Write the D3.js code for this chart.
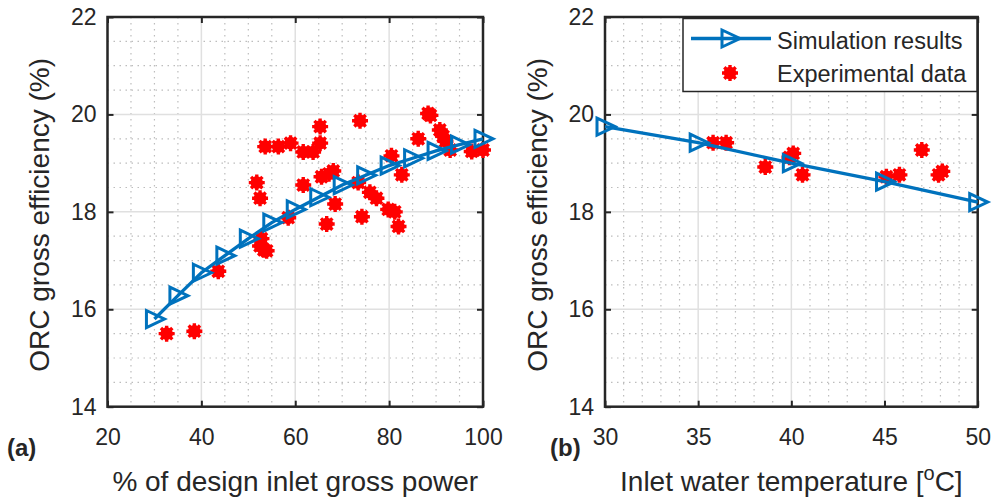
<!DOCTYPE html>
<html>
<head>
<meta charset="utf-8">
<script src="https://cdn.jsdelivr.net/npm/d3@7"></script>
<style>
  body { margin: 0; background: #fff; }
  text { font-family: "Liberation Sans", Arial, sans-serif; fill: #262626; }
</style>
</head>
<body>
<div id="chart"></div>
<script>
// panel (a): load
let simLoad = [30, 35, 40, 45, 50, 55, 60, 65, 70, 75, 80, 85, 90, 95, 100];
let simLoadEff = [15.8, 16.28, 16.75, 17.1, 17.45, 17.78, 18.05, 18.3, 18.55, 18.75, 18.95, 19.1, 19.25, 19.38, 19.5];
let expLoad = [32.6, 38.5, 43.6, 52.5, 53.9, 52.8, 53.3, 58.5, 51.8, 52.5, 53.6, 56.4, 59, 61.7, 63.8, 65.3, 65.3,
               61.7, 65.6, 68.1, 67.2, 68.5, 66.7, 73.8, 73.4, 75.9, 77.3, 74.2, 79.8, 81.2, 82, 80.5, 82.7, 86.2,
               88.3, 88.8, 90.8, 91.5, 92, 93, 97.6, 100];
let expLoadEff = [15.5, 15.55, 16.78, 17.3, 17.2, 17.45, 17.22, 17.88, 18.6, 18.28, 19.34, 19.34, 19.41, 19.23, 19.23, 19.41, 19.75,
                  18.55, 18.72, 18.84, 18.78, 18.16, 17.75, 19.87, 18.6, 18.4, 18.28, 17.9, 18.05, 18.0, 17.7, 19.15, 18.76, 19.5,
                  20.02, 19.98, 19.68, 19.55, 19.45, 19.27, 19.24, 19.27];

// panel (b): inlet water temperature
let simTemp = [30, 35, 40, 45, 50];
let simTempEff = [19.75, 19.42, 19.0, 18.62, 18.2];
let expTemp = [35.8, 36.5, 38.6, 39.9, 40.1, 40.6, 45.1, 45.8, 47, 47.9, 48.1];
let expTempEff = [19.42, 19.42, 18.92, 19.12, 19.2, 18.76, 18.72, 18.76, 19.27, 18.76, 18.83];

let yTicks = [14, 16, 18, 20, 22];
let loadTicks = [20, 40, 60, 80, 100];
let tempTicks = [30, 35, 40, 45, 50];

const blue = '#0072BD', red = '#FF0000';
const triPath = 'M-8,-8.5L10,0L-8,8.5Z';
const starPath = 'M-8,0H8M0,-8V8M-5.7,-5.7L5.7,5.7M-5.7,5.7L5.7,-5.7';

let svg = d3.select('#chart').append('svg')
  .attr('width', 997).attr('height', 502);

function drawPanel(cfg) {
  let x = d3.scaleLinear().domain(cfg.xDomain).range([cfg.left, cfg.right]);
  let y = d3.scaleLinear().domain([14, 22]).range([cfg.bottom, cfg.top]);
  let g = svg.append('g');

  // minor dotted grid
  g.selectAll('.mx').data(d3.range(cfg.xDomain[0], cfg.xDomain[1] + 1e-9, cfg.xMinor).filter(v => !cfg.xTicks.includes(v)))
    .join('line')
    .attr('x1', d => x(d)).attr('x2', d => x(d))
    .attr('y1', cfg.top).attr('y2', cfg.bottom)
    .attr('stroke', '#bdbdbd').attr('stroke-width', 1.2).attr('stroke-dasharray', '1.5,4.5');
  g.selectAll('.my').data(d3.range(14, 22, 0.5).filter(v => !yTicks.includes(v)))
    .join('line')
    .attr('x1', cfg.left).attr('x2', cfg.right)
    .attr('y1', d => y(d)).attr('y2', d => y(d))
    .attr('stroke', '#bdbdbd').attr('stroke-width', 1.2).attr('stroke-dasharray', '1.5,4.5');

  // major grid
  g.selectAll('.gx').data(cfg.xTicks).join('line')
    .attr('x1', d => x(d)).attr('x2', d => x(d))
    .attr('y1', cfg.top).attr('y2', cfg.bottom)
    .attr('stroke', '#e0e0e0').attr('stroke-width', 1.5);
  g.selectAll('.gy').data(yTicks).join('line')
    .attr('x1', cfg.left).attr('x2', cfg.right)
    .attr('y1', d => y(d)).attr('y2', d => y(d))
    .attr('stroke', '#e0e0e0').attr('stroke-width', 1.5);

  // axes, ticks inward on all four sides
  let bottomAx = g.append('g').attr('transform', `translate(0,${cfg.bottom})`)
    .call(d3.axisBottom(x).tickValues(cfg.xTicks).tickSize(-6).tickFormat(d3.format('d')));
  bottomAx.selectAll('text').attr('y', 22).style('font-size', '23px').attr('fill', '#262626');
  let leftAx = g.append('g').attr('transform', `translate(${cfg.left},0)`)
    .call(d3.axisLeft(y).tickValues(yTicks).tickSize(-6).tickFormat(d3.format('d')));
  leftAx.selectAll('text').attr('x', -11).style('font-size', '23px').attr('fill', '#262626');
  let topAx = g.append('g').attr('transform', `translate(0,${cfg.top})`)
    .call(d3.axisTop(x).tickValues(cfg.xTicks).tickSize(-6));
  let rightAx = g.append('g').attr('transform', `translate(${cfg.right},0)`)
    .call(d3.axisRight(y).tickValues(yTicks).tickSize(-6));
  topAx.selectAll('text').remove();
  rightAx.selectAll('text').remove();
  [bottomAx, leftAx, topAx, rightAx].forEach(a => {
    a.select('.domain').remove();
    a.selectAll('line').attr('stroke', '#262626').attr('stroke-width', 2);
  });

  g.append('rect')
    .attr('x', cfg.left).attr('y', cfg.top)
    .attr('width', cfg.right - cfg.left).attr('height', cfg.bottom - cfg.top)
    .attr('fill', 'none').attr('stroke', '#262626').attr('stroke-width', 2.5);

  // experimental markers
  let pts = cfg.expX.map((v, i) => [v, cfg.expY[i]]);
  let mk = g.selectAll('.exp').data(pts).join('g')
    .attr('transform', d => `translate(${x(d[0])},${y(d[1])})`);
  mk.append('circle').attr('r', 6.3).attr('fill', red);
  mk.append('path').attr('d', starPath)
    .attr('stroke', red).attr('stroke-width', 3.4);

  // simulation line + triangles
  let sim = cfg.simX.map((v, i) => [v, cfg.simY[i]]);
  g.append('path').datum(sim)
    .attr('d', d3.line().x(d => x(d[0])).y(d => y(d[1])))
    .attr('fill', 'none').attr('stroke', blue).attr('stroke-width', 3.3);
  g.selectAll('.tri').data(sim).join('path')
    .attr('transform', d => `translate(${x(d[0])},${y(d[1])})`)
    .attr('d', triPath)
    .attr('fill', 'none').attr('stroke', blue).attr('stroke-width', 3);

  // axis labels
  svg.append('text')
    .attr('transform', `translate(${cfg.left - 68},${(cfg.top + cfg.bottom) / 2 + 3}) rotate(-90)`)
    .attr('text-anchor', 'middle').attr('dy', '0.35em')
    .style('font-size', '28px').text('ORC gross efficiency (%)');
  let xl = svg.append('text')
    .attr('x', (cfg.left + cfg.right) / 2).attr('y', 491)
    .attr('text-anchor', 'middle').style('font-size', '28px');
  cfg.xLabel(xl);

  svg.append('text').attr('x', cfg.tagX).attr('y', 456)
    .style('font-size', '24px').style('font-weight', 'bold').attr('fill', '#000')
    .text(cfg.tag);
}

drawPanel({
  left: 107.5, right: 483, top: 17, bottom: 406.7,
  xDomain: [20, 100], xTicks: loadTicks, xMinor: 5,
  simX: simLoad, simY: simLoadEff, expX: expLoad, expY: expLoadEff,
  tag: '(a)', tagX: 7,
  xLabel: t => t.text('% of design inlet gross power')
});

drawPanel({
  left: 605, right: 977.7, top: 17, bottom: 406.7,
  xDomain: [30, 50], xTicks: tempTicks, xMinor: 1,
  simX: simTemp, simY: simTempEff, expX: expTemp, expY: expTempEff,
  tag: '(b)', tagX: 550,
  xLabel: t => {
    t.append('tspan').text('Inlet water temperature [');
    t.append('tspan').attr('dy', -11).style('font-size', '20px').text('o');
    t.append('tspan').attr('dy', 11).text('C]');
  }
});

// legend
let lg = svg.append('g');
lg.append('rect').attr('x', 683).attr('y', 18.5).attr('width', 294).attr('height', 73)
  .attr('fill', '#fff').attr('stroke', '#262626').attr('stroke-width', 1.5);
lg.append('line').attr('x1', 691).attr('x2', 771).attr('y1', 38.5).attr('y2', 38.5)
  .attr('stroke', blue).attr('stroke-width', 3.3);
lg.append('path').attr('transform', 'translate(730,38.5)').attr('d', triPath)
  .attr('fill', 'none').attr('stroke', blue).attr('stroke-width', 3);
let lm = lg.append('g').attr('transform', 'translate(730,73)');
lm.append('circle').attr('r', 6.3).attr('fill', red);
lm.append('path').attr('d', starPath).attr('stroke', red).attr('stroke-width', 3.4);
lg.append('text').attr('x', 777).attr('y', 48.5).style('font-size', '23.5px').attr('fill', '#000').text('Simulation results');
lg.append('text').attr('x', 777).attr('y', 82).style('font-size', '23.5px').attr('fill', '#000').text('Experimental data');
</script>
</body>
</html>
